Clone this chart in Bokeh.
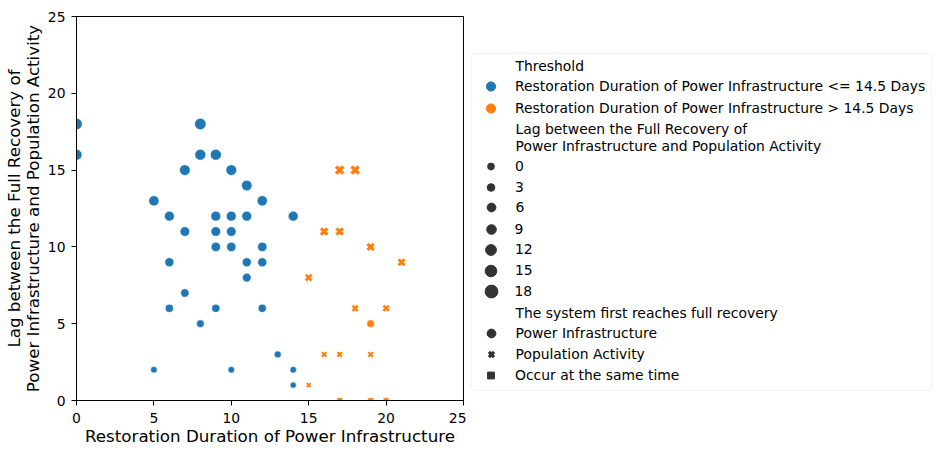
import math
from bokeh.plotting import figure
from bokeh.layouts import row as brow
from bokeh.models import (ColumnDataSource, Range1d, Legend, LegendItem, Label,
                          BoxAnnotation, FixedTicker)
from bokeh.embed import file_html
from bokeh.resources import INLINE

# ---------------- data ----------------
restoration = [0, 0, 5, 5, 6, 6, 6, 7, 7, 7, 8, 8, 8, 9, 9, 9, 9, 9,
               10, 10, 10, 10, 10, 11, 11, 11, 11, 12, 12, 12, 12, 13, 14, 14, 14,
               15, 15, 16, 16, 17, 17, 17, 18, 18, 19, 19, 20, 21,
               19,
               17, 19, 20]
lag = [18, 16, 13, 2, 12, 9, 6, 15, 11, 7, 18, 16, 5, 16, 12, 11, 10, 6,
       15, 12, 11, 10, 2, 14, 12, 9, 8, 13, 10, 9, 6, 3, 12, 2, 1,
       8, 1, 11, 3, 15, 11, 3, 15, 6, 10, 3, 6, 9,
       5,
       0, 0, 0]
first_full = (["Power Infrastructure"] * 35 + ["Population Activity"] * 13 +
              ["Power Infrastructure"] + ["Occur at the same time"] * 3)

threshold_value = 14.5
threshold_labels = ["Restoration Duration of Power Infrastructure <= 14.5 Days",
                    "Restoration Duration of Power Infrastructure > 14.5 Days"]
threshold_colors = ["#1f77b4", "#ff7f0e"]
size_levels = [0, 3, 6, 9, 12, 15, 18]
style_labels = ["Power Infrastructure", "Population Activity", "Occur at the same time"]
ticks = [0, 5, 10, 15, 20, 25]

# ---------------- styling helpers ----------------
FONT = "DejaVu Sans"
D0, D1 = 5.6, 11.4       # marker diameter for lag min / max (px)
lag_min, lag_max = 0, 18


def diam(v):
    return math.sqrt(D0 ** 2 + (D1 ** 2 - D0 ** 2) * (v - lag_min) / (lag_max - lag_min))


marker_of = {"Power Infrastructure": "circle", "Population Activity": "plus",
             "Occur at the same time": "square"}

colors, markers, sizes, angles = [], [], [], []
for xv, yv, st in zip(restoration, lag, first_full):
    colors.append(threshold_colors[0] if xv <= threshold_value else threshold_colors[1])
    markers.append(marker_of[st])
    d = diam(yv)
    if st == "Population Activity":
        d *= 0.97
        angles.append(math.pi / 4)
    else:
        angles.append(0.0)
    sizes.append(d)

src = ColumnDataSource(dict(x=restoration, y=lag, color=colors, marker=markers,
                            size=sizes, angle=angles))

TOTAL_H = 454
MW = 466                      # main figure width
FL, FT, FW, FH = 76, 16, 387, 384
FB = TOTAL_H - FT - FH

p = figure(width=MW, height=TOTAL_H, output_backend="svg", toolbar_location=None,
           x_range=Range1d(0, 25), y_range=Range1d(0, 25),
           min_border_left=FL, min_border_top=FT,
           min_border_right=MW - FL - FW, min_border_bottom=FB)
p.grid.visible = False
p.outline_line_color = "black"
p.outline_line_width = 1
p.background_fill_color = "white"
p.border_fill_color = "white"

p.scatter(x="x", y="y", source=src, marker="marker", size="size", angle="angle",
          fill_color="color", line_color="white", line_width=0.5)

for ax in (p.xaxis[0], p.yaxis[0]):
    ax.ticker = FixedTicker(ticks=ticks)
    ax.minor_tick_line_color = None
    ax.major_tick_out = 5
    ax.major_tick_in = 0
    ax.major_label_text_font = FONT
    ax.major_label_text_font_size = "13.9px"
    ax.major_label_text_color = "black"
    ax.axis_label_text_font = FONT
    ax.axis_label_text_font_size = "16.7px"
    ax.axis_label_text_font_style = "normal"
    ax.axis_label_text_color = "black"
    ax.axis_line_color = "black"
    ax.major_tick_line_color = "black"

p.xaxis.major_label_standoff = 7
p.xaxis.axis_label = "Restoration Duration of Power Infrastructure"
p.xaxis.axis_label_standoff = 0
p.yaxis.major_label_standoff = 6
p.yaxis.axis_label = "Lag between the Full Recovery of\nPower Infrastructure and Population Activity"
p.yaxis.axis_label_standoff = 2
p.yaxis.axis_label_text_line_height = 0.93

# ---------------- legend panel (separate, axis-free figure) ----------------
LW = 941 - MW
lf = figure(width=LW, height=TOTAL_H, output_backend="svg", toolbar_location=None,
            x_range=Range1d(0, 1), y_range=Range1d(0, 1),
            x_axis_type=None, y_axis_type=None,
            min_border_left=0, min_border_right=0, min_border_top=FT, min_border_bottom=FB)
lf.grid.visible = False
lf.outline_line_color = None
lf.background_fill_color = "white"
lf.border_fill_color = "white"

OX = MW          # window x of legend frame's left edge
OY = FT + FH     # window y of legend frame's bottom edge
CX = 490.5       # marker column centre (window px)
TX = 515.0       # text column start (window px)

box = BoxAnnotation(left=471 - OX, right=931 - OX,
                    top=OY - 53, bottom=OY - 390,
                    left_units="screen", right_units="screen",
                    top_units="screen", bottom_units="screen",
                    fill_color="white", fill_alpha=1.0,
                    line_color="#d6d6d6", line_width=1, border_radius=3)
lf.add_layout(box)


def header(text, cy):
    lf.add_layout(Label(x=TX - OX, y=OY - cy, x_units="screen", y_units="screen",
                        text=text, text_font=FONT, text_font_size="13.9px",
                        text_baseline="middle", text_align="left", text_color="black"))


NAN = float("nan")


def legend_row(label, cy, msize, **glyph):
    r = lf.scatter(x=[NAN], y=[NAN], **glyph)
    g = int(round(msize / 0.4))
    hh = max(g, 24)
    leg = Legend(items=[LegendItem(label=label, renderers=[r])],
                 location=(CX - g / 2 - OX, OY - (cy + hh / 2)),
                 padding=0, margin=0, spacing=0,
                 glyph_width=g, glyph_height=hh, label_height=hh, label_width=10,
                 label_standoff=int(round(TX - (CX + g / 2))),
                 border_line_color=None, background_fill_alpha=0,
                 label_text_font=FONT, label_text_font_size="13.9px",
                 label_text_color="black")
    lf.add_layout(leg)


GRAY = "#333333"
header("Threshold", 65.7)
legend_row(threshold_labels[0], 86.3, 9.3, marker="circle",
           fill_color=threshold_colors[0], line_color=threshold_colors[0])
legend_row(threshold_labels[1], 108.0, 9.3, marker="circle",
           fill_color=threshold_colors[1], line_color=threshold_colors[1])
header("Lag between the Full Recovery of", 128.0)
header("Power Infrastructure and Population Activity", 145.3)
size_rows = [166.0, 186.7, 207.3, 228.7, 249.3, 270.0, 291.3]
size_px = [6.7, 7.7, 8.8, 9.7, 10.7, 11.7, 12.7]
for lv, cy, sp in zip(size_levels, size_rows, size_px):
    legend_row(str(lv), cy, sp, marker="circle", fill_color=GRAY, line_color=GRAY)
header("The system first reaches full recovery", 312.0)
legend_row(style_labels[0], 333.3, 9.0, marker="circle", fill_color=GRAY, line_color=GRAY)
legend_row(style_labels[1], 354.0, 7.2, marker="x", line_color=GRAY, line_width=3.2)
legend_row(style_labels[2], 375.0, 6.8, marker="square", fill_color=GRAY, line_color=GRAY)

layout = brow(p, lf)
open("out.html", "w").write(file_html(layout, INLINE))
